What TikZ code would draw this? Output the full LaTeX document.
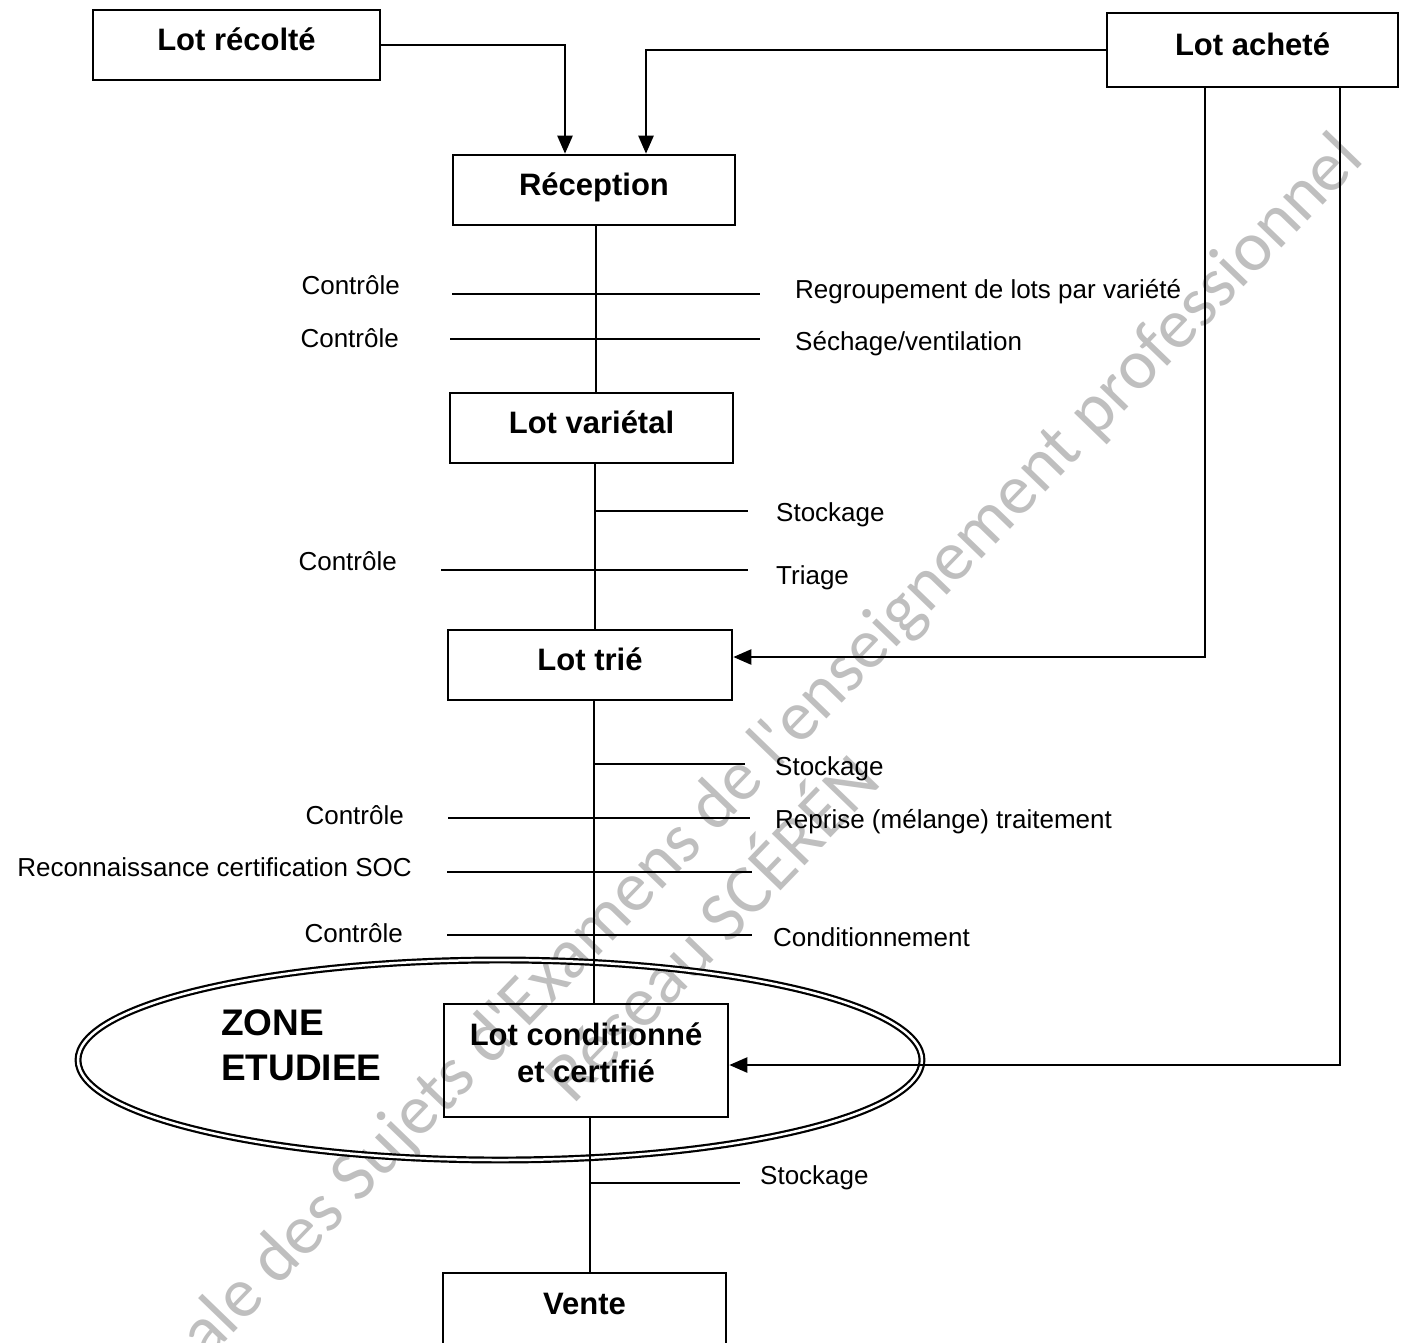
\documentclass[tikz,border=0pt]{standalone}
\usepackage{fontspec}
\setmainfont{Liberation Sans}
\newfontfamily\wmfont{Carlito}
\usetikzlibrary{arrows.meta,shapes.geometric}
\begin{document}
\begin{tikzpicture}[x=1pt,y=-1pt,
  box/.style={draw,line width=2.6pt,inner sep=0pt,align=center,text height=23pt,text depth=12pt,font=\fontsize{31}{37}\selectfont\bfseries},
  boxtxt/.style={inner sep=0pt,align=center,font=\fontsize{31}{37}\selectfont\bfseries},
  link/.style={line width=2.4pt},
  arr/.style={line width=2.4pt,-{Triangle[length=18pt,width=15pt]}},
  tick/.style={line width=2.4pt},
  lbl/.style={inner sep=0pt,font=\fontsize{26}{30}\selectfont},
  zonetxt/.style={inner sep=0pt,font=\fontsize{37}{44}\selectfont\bfseries},
  wm/.style={inner sep=0pt,align=center,text=black!25,font=\wmfont\fontsize{71}{86}\selectfont},
  ]
\useasboundingbox (0,0) rectangle (1407,1342);
\begin{scope}
\clip (0,0) rectangle (1407,1342);
\node[wm,rotate=46] (wmark) at (680,898) {Base Nationale des Sujets d'Examens de l'enseignement professionnel\\Réseau SCÉRÉN};
\end{scope}

% ellipse zone
\node[draw,ellipse,line width=2.2pt,double,double distance=2.5pt,minimum width=844pt,minimum height=200pt] (zone) at (500,1060) {};
\node[zonetxt,anchor=base west] (zone1) at (221,1035) {ZONE};
\node[zonetxt,anchor=base west] (zone2) at (221,1080) {ETUDIEE};

% boxes
\node[box,minimum width=287pt,minimum height=70pt] (recolte) at (236.5,45) {Lot récolté};
\node[box,minimum width=291pt,minimum height=74pt] (achete) at (1252.5,50) {Lot acheté};
\node[box,minimum width=282pt,minimum height=70pt] (reception) at (594,190) {Réception};
\node[box,minimum width=283pt,minimum height=70pt] (varietal) at (591.5,428) {Lot variétal};
\node[box,minimum width=284pt,minimum height=70pt] (trie) at (590,665) {Lot trié};
\node[draw,line width=2.6pt,inner sep=0pt,minimum width=284pt,minimum height=113pt] (cond) at (586,1060.5) {};
\node[boxtxt] (condtxt) at (586,1052.5) {Lot conditionné\\et certifié};
\node[box,minimum width=283pt,minimum height=72pt] (vente) at (584.5,1309) {Vente};

% arrows from sources
\draw[arr] (recolte.east) -| ([xshift=-29pt]reception.north);
\draw[arr] (achete.west) -| ([xshift=52pt]reception.north);
\draw[arr] ([xshift=-47.5pt]achete.south) |- ([yshift=8pt]trie.east);
\draw[arr] ([xshift=87.5pt]achete.south) |- ([yshift=-4.5pt]cond.east);

% main flow
\draw[link] ([xshift=2pt]reception.south) -- ([xshift=2pt]reception.south |- varietal.north);
\draw[link] ([xshift=3.5pt]varietal.south) -- ([xshift=3.5pt]varietal.south |- trie.north);
\draw[link] ([xshift=4pt]trie.south) -- ([xshift=4pt]trie.south |- cond.north);
\draw[link] ([xshift=4pt]cond.south) -- ([xshift=4pt]cond.south |- vente.north);

% ticks
\draw[tick] (452,294) -- (760,294);
\draw[tick] (450,339) -- (760,339);
\draw[tick] (596,511) -- (748,511);
\draw[tick] (441,570) -- (748,570);
\draw[tick] (594,764) -- (745,764);
\draw[tick] (448,818) -- (750,818);
\draw[tick] (447,872) -- (752,872);
\draw[tick] (447,935) -- (752,935);
\draw[tick] (590,1183) -- (740,1183);

% labels
\node[lbl,anchor=base east] (c1) at (400,294) {Contrôle};
\node[lbl,anchor=base east] (c2) at (399,347) {Contrôle};
\node[lbl,anchor=base west] (regr) at (795,298) {Regroupement de lots par variété};
\node[lbl,anchor=base west] (sech) at (795,350) {Séchage/ventilation};
\node[lbl,anchor=base west] (st1) at (776,521) {Stockage};
\node[lbl,anchor=base east] (c3) at (397,570) {Contrôle};
\node[lbl,anchor=base west] (tri) at (776,584) {Triage};
\node[lbl,anchor=base west] (st2) at (775,775) {Stockage};
\node[lbl,anchor=base east] (c4) at (404,824) {Contrôle};
\node[lbl,anchor=base west] (repr) at (775,828) {Reprise (mélange) traitement};
\node[lbl,anchor=base east] (soc) at (412,876) {Reconnaissance certification SOC};
\node[lbl,anchor=base east] (c5) at (403,942) {Contrôle};
\node[lbl,anchor=base west] (condi) at (773,946) {Conditionnement};
\node[lbl,anchor=base west] (st3) at (760,1184) {Stockage};
\end{tikzpicture}
\end{document}
